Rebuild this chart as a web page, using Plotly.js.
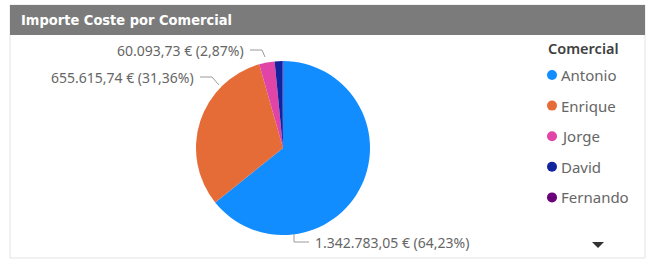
<!DOCTYPE html>
<html>
<head>
<meta charset="utf-8">
<script src="https://cdn.plot.ly/plotly-3.0.1.min.js"></script>
<style>html,body{margin:0;padding:0;background:#fff;}#chart{width:649px;height:261px;}</style>
</head>
<body>
<div id="chart"></div>
<script>
const chartTitle = "Importe Coste por Comercial";
const legendTitle = "Comercial";
const categories = ["Antonio", "Enrique", "Jorge", "David", "Fernando"];
const values = [1342783.05, 655615.74, 60093.73, 29500.00, 2593.48];
const colors = ["#118DFF", "#E66C37", "#E044A7", "#12239E", "#6B007B"];
const labeledCategories = ["Antonio", "Enrique", "Jorge"];

const W = 649, H = 261;
const px = x => x / W;
const py = y => 1 - y / H;

function fmtEs(v, d) {
  const parts = v.toFixed(d).split(".");
  const intPart = parts[0].replace(/\B(?=(\d{3})+(?!\d))/g, ".");
  return parts[1] ? intPart + "," + parts[1] : intPart;
}
const total = values.reduce((a, b) => a + b, 0);
const labelText = i => fmtEs(values[i], 2) + " € (" + fmtEs(values[i] / total * 100, 2) + "%)";

// pie geometry (pixels)
const cx = 283, cy = 148, r = 87;

const trace = {
  type: "pie",
  labels: categories,
  values: values,
  sort: false,
  direction: "clockwise",
  rotation: 0,
  marker: { colors: colors, line: { width: 0 } },
  textinfo: "none",
  hoverinfo: "label+value+percent",
  showlegend: false,
  domain: { x: [px(cx - r), px(cx + r)], y: [py(cy + r), py(cy - r)] }
};

const labelFont = { family: "Noto Sans, Open Sans, sans-serif", size: 14, color: "#666666" };
const annotations = [];
const shapes = [];

// card
shapes.push({ type: "rect", xref: "paper", yref: "paper", x0: px(10), x1: px(645), y0: py(258), y1: py(5),
  line: { color: "#e3e3e3", width: 1 }, fillcolor: "rgba(0,0,0,0)", layer: "below" });
shapes.push({ type: "rect", xref: "paper", yref: "paper", x0: px(10), x1: px(645), y0: py(35), y1: py(5),
  line: { width: 0 }, fillcolor: "#7b7b7b", layer: "below" });
annotations.push({ xref: "paper", yref: "paper", x: px(19), y: py(20), xanchor: "left", yanchor: "middle",
  text: chartTitle, showarrow: false,
  font: { family: "DejaVu Sans Condensed, sans-serif", size: 14.5, color: "#ffffff", weight: "bold" } });

// data labels with leader lines
const labelPlacement = {
  "Jorge":   { tx: 246, ty: 50, anchor: "right", pts: [[250, 50], [262, 50], [265, 57]] },
  "Enrique": { tx: 196, ty: 77, anchor: "right", pts: [[200, 77], [212, 77], [219, 85]] },
  "Antonio": { tx: 313, ty: 242, anchor: "left", pts: [[309, 242], [294, 242], [294, 234]] }
};
labeledCategories.forEach(name => {
  const i = categories.indexOf(name);
  const p = labelPlacement[name];
  annotations.push({ xref: "paper", yref: "paper", x: px(p.tx), y: py(p.ty), xanchor: p.anchor, yanchor: "middle",
    text: labelText(i), showarrow: false, font: labelFont });
  const d = p.pts.map((q, k) => (k ? "L" : "M") + " " + px(q[0]) + " " + py(q[1])).join(" ");
  shapes.push({ type: "path", xref: "paper", yref: "paper", path: d, line: { color: "#9a9a9a", width: 1 } });
});

// legend
annotations.push({ xref: "paper", yref: "paper", x: px(546), y: py(48), xanchor: "left", yanchor: "middle",
  text: legendTitle, showarrow: false,
  font: { family: "Noto Sans, Open Sans, sans-serif", size: 14.5, color: "#404040", weight: 600 } });
categories.forEach((c, i) => {
  const yy = 75 + i * 30.6;
  shapes.push({ type: "circle", xref: "paper", yref: "paper",
    x0: px(547), x1: px(557), y0: py(yy + 5), y1: py(yy - 5),
    fillcolor: colors[i], line: { width: 0 } });
  annotations.push({ xref: "paper", yref: "paper", x: px(559), y: py(yy), xanchor: "left", yanchor: "middle",
    text: c, showarrow: false,
    font: { family: "Noto Sans, Open Sans, sans-serif", size: 15, color: "#666666" } });
});
// dropdown arrow
shapes.push({ type: "path", xref: "paper", yref: "paper",
  path: "M " + px(592) + " " + py(242) + " L " + px(604) + " " + py(242) + " L " + px(598) + " " + py(248) + " Z",
  fillcolor: "#333333", line: { width: 0 } });

const layout = {
  width: W, height: H,
  margin: { l: 0, r: 0, t: 0, b: 0 },
  paper_bgcolor: "#ffffff",
  showlegend: false,
  shapes: shapes,
  annotations: annotations
};
Plotly.newPlot("chart", [trace], layout, { displayModeBar: false, staticPlot: true });
</script>
</body>
</html>
